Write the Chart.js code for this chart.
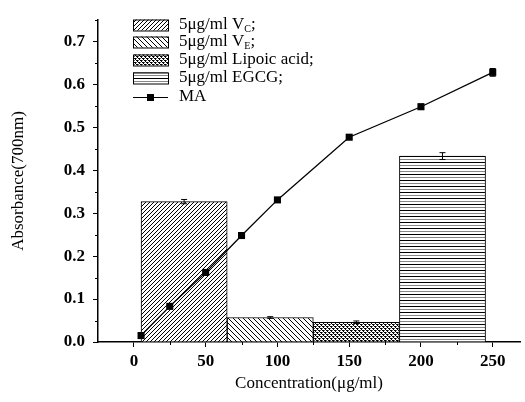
<!DOCTYPE html>
<html>
<head>
<meta charset="utf-8">
<script src="https://cdn.jsdelivr.net/npm/chart.js@4.4.1/dist/chart.umd.min.js"></script>
<style>
  html, body { margin: 0; padding: 0; background: #fff; }
</style>
</head>
<body>
<canvas id="grafico" width="525" height="402"></canvas>
<script>
// -----------------------------
// Data
// -----------------------------
const barCenters = [35, 95, 155, 215];
const barValues = [0.327, 0.057, 0.046, 0.433];
const barErrors = [0.005, 0.002, 0.003, 0.008];
const barLabels = [['5μg/ml V', 'C', ';'], ['5μg/ml V', 'E', ';'], ['5μg/ml Lipoic acid;', '', ''], ['5μg/ml EGCG;', '', '']];

const maLabel = 'MA';
const maConc = [5, 25, 50, 75, 100, 150, 200, 250];
const maValues = [0.015, 0.083, 0.162, 0.248, 0.331, 0.477, 0.548, 0.628];
const maErrors = [0.002, 0.002, 0.003, 0.003, 0.003, 0.004, 0.006, 0.009];

const xTicks = [0, 50, 100, 150, 200, 250];
const xMinorTicks = [25, 75, 125, 175, 225];
const yTicks = [0, 0.1, 0.2, 0.3, 0.4, 0.5, 0.6, 0.7];
const yMinorTicks = [0.05, 0.15, 0.25, 0.35, 0.45, 0.55, 0.65, 0.75];

const xTitle = 'Concentration(μg/ml)';
const yTitle = 'Absorbance(700nm)';

// -----------------------------
// Hatch patterns
// -----------------------------
function makePattern(w, h, draw) {
  const c = document.createElement('canvas');
  c.width = w; c.height = h;
  const g = c.getContext('2d');
  g.fillStyle = '#fff';
  g.fillRect(0, 0, w, h);
  g.strokeStyle = '#000';
  g.fillStyle = '#000';
  draw(g, w, h);
  return g.createPattern(c, 'repeat');
}
function diagonal(s, forward) {
  return makePattern(s, s, (g) => {
    g.lineWidth = 1;
    g.beginPath();
    for (let k = -1; k <= 1; k++) {
      if (forward) { g.moveTo(k * s, s); g.lineTo(k * s + s, 0); }
      else { g.moveTo(k * s, 0); g.lineTo(k * s + s, s); }
    }
    g.stroke();
  });
}
const patVc = diagonal(4, true);
const patVe = diagonal(5, false);
const patLipoic = makePattern(4, 4, (g) => {
  g.fillRect(0, 0, 2, 1); g.fillRect(2, 2, 2, 1);
  g.fillRect(1, 1, 1, 1); g.fillRect(3, 3, 1, 1);
  g.fillStyle = '#666';
  g.fillRect(2, 0, 1, 1); g.fillRect(0, 2, 1, 1);
});
const patEgcg = makePattern(4, 6, (g) => {
  g.fillRect(0, 0, 4, 1);
  g.fillStyle = '#888';
  g.fillRect(0, 3, 4, 1);
});
const barPatterns = [patVc, patVe, patLipoic, patEgcg];

const serif = '"Liberation Serif", "DejaVu Serif", serif';

// -----------------------------
// Plugin: minor ticks, error bars, legend
// -----------------------------
const extras = {
  id: 'extras',
  afterDatasetsDraw(chart) {
    const ctx = chart.ctx;
    const xs = chart.scales.x, ys = chart.scales.y;
    const area = chart.chartArea;
    ctx.save();
    ctx.strokeStyle = '#000';
    ctx.lineWidth = 1;
    // minor ticks
    ctx.beginPath();
    xMinorTicks.forEach(v => {
      const px = Math.round(xs.getPixelForValue(v)) + 0.5;
      ctx.moveTo(px, area.bottom); ctx.lineTo(px, area.bottom + 3);
    });
    yMinorTicks.forEach(v => {
      const py = Math.round(ys.getPixelForValue(v)) + 0.5;
      ctx.moveTo(area.left, py); ctx.lineTo(area.left - 3, py);
    });
    ctx.stroke();
    // error bars
    const drawErr = (x, y, e) => {
      const px = xs.getPixelForValue(x);
      const top = ys.getPixelForValue(y + e), bot = ys.getPixelForValue(y - e);
      ctx.beginPath();
      ctx.moveTo(px, top); ctx.lineTo(px, bot);
      ctx.moveTo(px - 3, top); ctx.lineTo(px + 3, top);
      ctx.moveTo(px - 3, bot); ctx.lineTo(px + 3, bot);
      ctx.stroke();
    };
    barCenters.forEach((x, i) => drawErr(x, barValues[i], barErrors[i]));
    maConc.forEach((x, i) => drawErr(x, maValues[i], maErrors[i]));

    // legend
    const bx = 133, bw = 35, bh = 11;
    const rows = [25, 42, 60, 78];
    ctx.font = '17px ' + serif;
    ctx.textBaseline = 'middle';
    ctx.fillStyle = '#000';
    barLabels.forEach((lab, i) => {
      const cy = rows[i];
      ctx.fillStyle = barPatterns[i];
      ctx.fillRect(bx, cy - bh / 2, bw, bh);
      ctx.strokeRect(bx + 0.5, cy - bh / 2 + 0.5, bw, bh);
      ctx.fillStyle = '#000';
      let tx = 179;
      ctx.font = '17px ' + serif;
      ctx.fillText(lab[0], tx, cy);
      tx += ctx.measureText(lab[0]).width;
      if (lab[1]) {
        ctx.font = '10px ' + serif;
        ctx.fillText(lab[1], tx, cy + 4);
        tx += ctx.measureText(lab[1]).width;
        ctx.font = '17px ' + serif;
      }
      if (lab[2]) ctx.fillText(lab[2], tx, cy);
    });
    const my = 97;
    ctx.beginPath();
    ctx.moveTo(bx, my + 0.5); ctx.lineTo(bx + bw, my + 0.5);
    ctx.stroke();
    ctx.fillRect(bx + bw / 2 - 3.5, my - 3, 7, 7);
    ctx.font = '17px ' + serif;
    ctx.fillText(maLabel, 179, my);
    ctx.restore();
  }
};

// -----------------------------
// Chart
// -----------------------------
const ctx = document.getElementById('grafico').getContext('2d');
new Chart(ctx, {
  data: {
    datasets: [
      {
        type: 'line',
        label: maLabel,
        data: maConc.map((x, i) => ({ x, y: maValues[i] })),
        borderColor: '#000',
        borderWidth: 1.3,
        pointStyle: 'rect',
        pointRadius: 5,
        pointBackgroundColor: '#000',
        pointBorderWidth: 0,
        tension: 0,
        order: 0
      },
      {
        type: 'bar',
        label: 'bars',
        data: barCenters.map((x, i) => ({ x, y: barValues[i] })),
        backgroundColor: barPatterns,
        borderColor: '#000',
        borderWidth: 1,
        barThickness: 'flex',
        barPercentage: 1,
        categoryPercentage: 1,
        order: 1
      }
    ]
  },
  options: {
    responsive: false,
    animation: false,
    layout: { padding: { top: 20, right: 0, left: 0, bottom: 0 } },
    plugins: { legend: { display: false }, tooltip: { enabled: false } },
    scales: {
      x: {
        type: 'linear',
        offset: false,
        min: -25, max: 269,
        afterFit: s => { s.height = 60; },
        afterBuildTicks: s => { s.ticks = xTicks.map(v => ({ value: v })); },
        grid: { display: true, offset: false, drawOnChartArea: false, tickLength: 5, color: '#000' },
        border: { color: '#000', width: 1.5 },
        ticks: { color: '#000', padding: 4, font: { family: serif, size: 17, weight: 'bold' } },
        title: { display: true, text: xTitle, color: '#000', padding: { top: 2, bottom: 8 }, font: { family: serif, size: 17 } }
      },
      y: {
        type: 'linear',
        min: 0, max: 0.75,
        afterFit: s => { s.width = 98; },
        afterBuildTicks: s => { s.ticks = yTicks.map(v => ({ value: v })); },
        grid: { display: true, drawOnChartArea: false, tickLength: 5, color: '#000' },
        border: { color: '#000', width: 1.5 },
        ticks: { color: '#000', padding: 8, font: { family: serif, size: 17, weight: 'bold' }, callback: v => v.toFixed(1) },
        title: { display: true, text: yTitle, color: '#000', padding: { top: 8, bottom: 0 }, font: { family: serif, size: 17 } }
      }
    }
  },
  plugins: [extras]
});
</script>
</body>
</html>
